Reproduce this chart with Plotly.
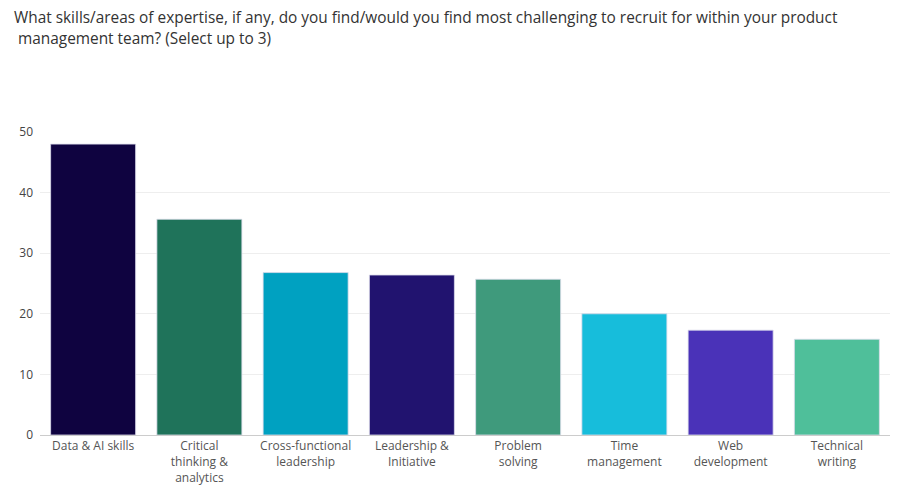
import plotly.graph_objects as go

categories = ["Data & AI skills", "Critical<br>thinking &<br>analytics", "Cross-functional<br>leadership",
              "Leadership &<br>Initiative", "Problem<br>solving", "Time<br>management",
              "Web<br>development", "Technical<br>writing"]
values = [48.0, 35.6, 26.8, 26.4, 25.7, 20.0, 17.3, 15.8]
colors = ["#0f0340", "#1f735a", "#00a1c1", "#21136f", "#3f9a7c", "#17bddb", "#4a32b8", "#4fbf9a"]
y_ticks = [0, 10, 20, 30, 40, 50]
title_lines = ["What skills/areas of expertise, if any, do you find/would you find most challenging to recruit for within your product",
               "management team? (Select up to 3)"]

fig = go.Figure(go.Bar(
    x=categories, y=values,
    marker=dict(color=colors, line=dict(color="rgba(220,220,235,0.8)", width=1)),
    width=0.8,
))

fig.update_layout(
    width=900, height=487,
    margin=dict(l=32, r=18, t=124, b=60),
    paper_bgcolor="white", plot_bgcolor="white",
    font=dict(family="Open Sans", color="#555555", size=12),
    showlegend=False,
    annotations=[
        dict(text=title_lines[0], xref="paper", yref="paper", x=-0.033, y=1.0, yshift=127,
             xanchor="left", yanchor="top", align="left", showarrow=False,
             font=dict(family="Open Sans", size=15.4, color="#333333")),
        dict(text=title_lines[1], xref="paper", yref="paper", x=-0.028, y=1.0, yshift=106,
             xanchor="left", yanchor="top", align="left", showarrow=False,
             font=dict(family="Open Sans", size=15.4, color="#333333")),
    ],
)
fig.update_xaxes(showline=True, linecolor="#cccccc", linewidth=1, ticks="", automargin=False,
                 tickfont=dict(size=12, color="#555555"))
fig.update_yaxes(range=[0, 50], tickvals=y_ticks, showgrid=True, gridcolor="#eeeeee", automargin=False,
                 zeroline=False, tickfont=dict(size=12, color="#444444"), ticklabelstandoff=6)

fig.write_html("out.html")
